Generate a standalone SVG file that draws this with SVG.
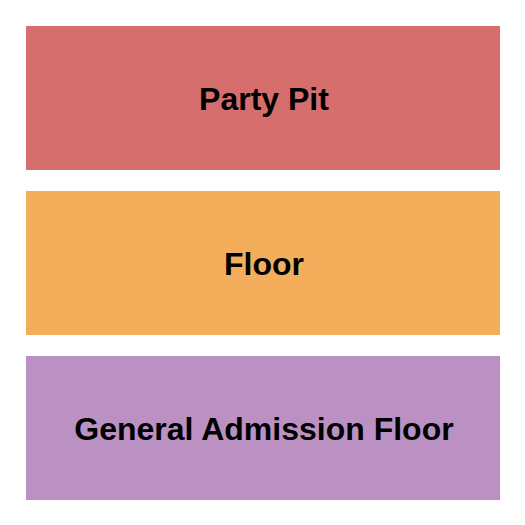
<svg xmlns="http://www.w3.org/2000/svg" width="525" height="525" viewBox="0 0 525 525">
<style>
.sec{stroke:none}
.lbl{font-family:"Liberation Sans",Arial,sans-serif;font-weight:bold;font-size:32px;fill:#000;text-anchor:middle}
</style>
<rect width="525" height="525" fill="#ffffff"/>
<g id="party-pit">
<rect class="sec" x="26" y="26" width="474" height="144" fill="#D76E6E"/>
<text class="lbl" x="264" y="110">Party Pit</text>
</g>
<g id="floor">
<rect class="sec" x="26" y="191" width="474" height="144" fill="#F4AE5B"/>
<text class="lbl" x="264" y="275">Floor</text>
</g>
<g id="ga-floor">
<rect class="sec" x="26" y="356" width="474" height="144" fill="#BB91C3"/>
<text class="lbl" x="264" y="440">General Admission Floor</text>
</g>
<g id="connectors"/>
</svg>
